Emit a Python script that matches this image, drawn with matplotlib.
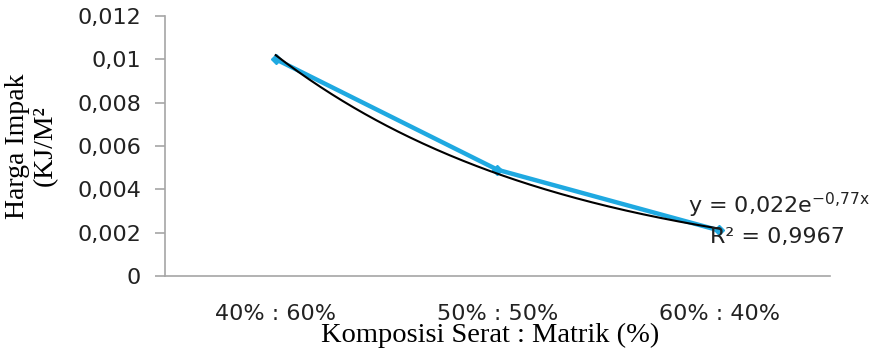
import numpy as np
import matplotlib.pyplot as plt

categories = ['40% : 60%', '50% : 50%', '60% : 40%']
impact = [0.0100, 0.0049, 0.0021]
yticks = [0, 0.002, 0.004, 0.006, 0.008, 0.01, 0.012]
ytick_labels = ['0', '0,002', '0,004', '0,006', '0,008', '0,01', '0,012']
# exponential trendline from the chart: y = 0,022 e^(-0,77x)
trend_a = 0.022
trend_b = -0.77

fig = plt.figure(figsize=(8.72, 3.52), dpi=100)
ax = fig.add_axes([0.189, 0.216, 0.763, 0.739])

x = np.arange(len(categories))
ax.plot(x, impact, color='#1fa9e1', lw=3.2, marker='D', ms=5,
        solid_capstyle='round', zorder=2)

xs = np.linspace(0, 2, 200)
ax.plot(xs, trend_a * np.exp(trend_b * (xs + 1)), color='black', lw=1.5, zorder=3)

ax.set_xlim(-0.5, 2.5)
ax.set_ylim(0, 0.012)
ax.set_yticks(yticks)
ax.set_yticklabels(ytick_labels)
ax.set_xticks(x)
ax.set_xticklabels(categories)

for s in ['top', 'right']:
    ax.spines[s].set_visible(False)
for s in ['left', 'bottom']:
    ax.spines[s].set_color('#a6a6a6')
    ax.spines[s].set_linewidth(1.2)

ax.tick_params(axis='y', length=7, width=1.2, color='#a6a6a6', pad=10,
               labelsize=16, labelcolor='#222222')
ax.tick_params(axis='x', length=0, pad=20, labelsize=16, labelcolor='#222222')

fig.text(0.036, 0.585, 'Harga Impak\n(KJ/M²', rotation=90, ha='center', va='center',
         family='Liberation Serif', fontsize=20, linespacing=1.12)
fig.text(0.562, 0.028, 'Komposisi Serat : Matrik (%)', ha='center', va='baseline',
         family='Liberation Serif', fontsize=20.5)

fig.text(0.789, 0.395, r'y = 0,022e$^{\mathregular{-0{,}77x}}$', fontsize=16,
         color='#222222')
fig.text(0.814, 0.31, 'R² = 0,9967', fontsize=16, color='#222222')

fig.savefig('out.png', dpi=100)
